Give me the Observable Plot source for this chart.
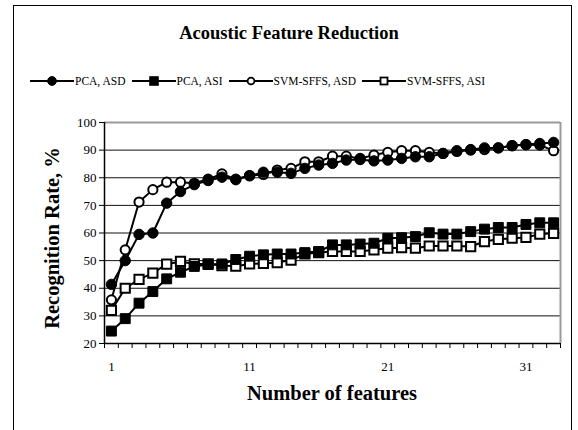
<!DOCTYPE html>
<html><head><meta charset="utf-8">
<script src="https://cdn.jsdelivr.net/npm/d3@7"></script>
<script src="https://cdn.jsdelivr.net/npm/@observablehq/plot@0.6"></script>
<style>
body{margin:0;background:#fff;}
#wrap{position:relative;width:578px;height:430px;overflow:hidden;font-family:"Liberation Serif","Times New Roman",serif;color:#000;background:#fff;}
#frame{position:absolute;left:13px;top:5px;width:559px;height:460px;border:1.5px solid #000;box-sizing:border-box;}
#title{position:absolute;left:0;width:578px;top:23px;text-align:center;font-weight:bold;font-size:18.5px;}
#legend{position:absolute;top:75px;left:30px;display:flex;align-items:center;font-size:11.5px;}
.item{display:flex;align-items:center;margin-right:6px;}
.item svg{display:block;margin-right:1px;}
#chart{position:absolute;left:0;top:0;}
#chart svg text{font-family:"Liberation Serif","Times New Roman",serif;}
#ytitle{position:absolute;left:52px;top:238px;transform:translate(-50%,-50%) rotate(-90deg);white-space:nowrap;font-weight:bold;font-size:20.5px;}
#xtitle{position:absolute;top:382px;left:104px;width:456px;text-align:center;font-weight:bold;font-size:20.5px;}
</style></head>
<body>
<div id="wrap">
  <div id="frame"></div>
  <div id="title">Acoustic Feature Reduction</div>
  <div id="legend"></div>
  <div id="chart"></div>
  <div id="ytitle">Recognition Rate, %</div>
  <div id="xtitle">Number of features</div>
</div>
<script>
const features = [1,2,3,4,5,6,7,8,9,10,11,12,13,14,15,16,17,18,19,20,21,22,23,24,25,26,27,28,29,30,31,32,33];
const pcaASD = [41.4,50,59.5,60,70.8,75,77.5,79,80.2,79.3,80.7,82,82,81.6,83.4,84.6,85.2,86.4,86.6,86.1,86.4,87,87.6,87.6,88.8,89.8,90.2,90.8,90.8,91.6,92,92.4,92.8];
const pcaASI = [24.5,29,34.6,38.8,43.4,45.8,47.9,48.6,48.8,50.4,51.6,52.1,52.4,52.4,52.9,53.3,55.7,55.7,56,56.3,58.1,58.3,58.7,60.1,59.6,59.6,60.5,61.4,62,62,63.1,63.7,63.7];
const svmASD = [35.8,53.9,71.2,75.7,78.4,78.4,78,79.5,81.4,79.5,80.8,81.2,82.8,83.4,85.8,85.8,87.8,87.8,87,88.2,89.2,89.8,89.8,89.2,88.8,89.5,90,90.2,90.8,91.6,92,91.8,89.8];
const svmASI = [32,40,43.2,45.5,48.7,49.7,48.8,48.8,48.2,48,48.8,49,49.3,50.2,52.4,52.9,53.3,53.3,53.3,53.9,54.5,54.7,54.5,55.3,55.3,55.3,55.1,56.9,57.7,58.1,58.4,59.6,59.9];
const seriesNames = ["PCA, ASD","PCA, ASI","SVM-SFFS, ASD","SVM-SFFS, ASI"];
const yTicks = [20,30,40,50,60,70,80,90,100];
const xTickLabels = [1,11,21,31];

const seriesDefs = [
  {name: seriesNames[2], values: svmASD, symbol: "circle", fill: "#fff", r: 4.6},
  {name: seriesNames[3], values: svmASI, symbol: "square", fill: "#fff", r: 5.2},
  {name: seriesNames[0], values: pcaASD, symbol: "circle", fill: "#000", r: 5.2},
  {name: seriesNames[1], values: pcaASI, symbol: "square", fill: "#000", r: 5.6}
];
const rows = seriesDefs.flatMap(s => features.map((f, i) => ({series: s.name, feature: f, value: s.values[i]})));
const boundaries = d3.range(features[0] - 0.5, features[features.length - 1] + 1, 1);

const marks = [
  Plot.ruleY(yTicks.slice(1, -1), {stroke: "#111", strokeWidth: 1}),
  Plot.ruleY([100], {stroke: "#999", strokeWidth: 2}),
  Plot.ruleX([boundaries[boundaries.length - 1]], {stroke: "#999", strokeWidth: 2}),
  Plot.axisY({ticks: yTicks, tickSize: 5, tickPadding: 3, label: null, fontSize: 13}),
  Plot.axisX({ticks: boundaries, tickSize: 5, tickFormat: () => "", label: null}),
  Plot.axisX({ticks: xTickLabels, tickSize: 0, tickPadding: 18, label: null, fontSize: 13}),
  Plot.ruleX([boundaries[0]], {stroke: "#000", strokeWidth: 1.5}),
  Plot.ruleY([20], {stroke: "#000", strokeWidth: 1.5}),
  Plot.line(rows, {x: "feature", y: "value", z: "series", stroke: "#000", strokeWidth: 2})
];
for (const s of seriesDefs) {
  marks.push(Plot.dot(rows.filter(d => d.series === s.name), {
    x: "feature", y: "value", symbol: () => s.symbol, r: s.r,
    fill: s.fill, stroke: "#000", strokeWidth: s.fill === "#fff" ? 2 : 1
  }));
}

const chart = Plot.plot({
  width: 578, height: 430,
  marginLeft: 104, marginRight: 18, marginTop: 122, marginBottom: 87,
  x: {domain: [boundaries[0], boundaries[boundaries.length - 1]]},
  y: {domain: [20, 100]},
  symbol: {type: "identity"},
  style: {fontFamily: "'Liberation Serif','Times New Roman',serif", fontSize: "13px", color: "#000", background: "transparent", overflow: "visible"},
  marks
});
document.getElementById("chart").appendChild(chart);

// Legend
const legendDefs = [
  {name: seriesNames[0], shape: "circle", fill: "#000"},
  {name: seriesNames[1], shape: "square", fill: "#000"},
  {name: seriesNames[2], shape: "circle", fill: "#fff"},
  {name: seriesNames[3], shape: "square", fill: "#fff"}
];
const legend = document.getElementById("legend");
const LW = 44;
for (const d of legendDefs) {
  const item = document.createElement("div");
  item.className = "item";
  const ns = "http://www.w3.org/2000/svg";
  const svg = document.createElementNS(ns, "svg");
  svg.setAttribute("width", LW); svg.setAttribute("height", 12);
  const line = document.createElementNS(ns, "line");
  line.setAttribute("x1", 0); line.setAttribute("x2", LW); line.setAttribute("y1", 6); line.setAttribute("y2", 6);
  line.setAttribute("stroke", "#000"); line.setAttribute("stroke-width", 2.2);
  svg.appendChild(line);
  let m;
  const cx = LW / 2;
  if (d.shape === "circle") {
    m = document.createElementNS(ns, "circle");
    m.setAttribute("cx", cx); m.setAttribute("cy", 6); m.setAttribute("r", d.fill === "#000" ? 4.4 : 3.4);
  } else {
    m = document.createElementNS(ns, "rect");
    const s = d.fill === "#000" ? 8.5 : 7;
    m.setAttribute("x", cx - s / 2); m.setAttribute("y", 6 - s / 2); m.setAttribute("width", s); m.setAttribute("height", s);
  }
  m.setAttribute("fill", d.fill); m.setAttribute("stroke", "#000"); m.setAttribute("stroke-width", d.fill === "#000" ? 1 : 1.8);
  svg.appendChild(m);
  item.appendChild(svg);
  const t = document.createElement("span");
  t.textContent = d.name;
  item.appendChild(t);
  legend.appendChild(item);
}
</script>
</body></html>
